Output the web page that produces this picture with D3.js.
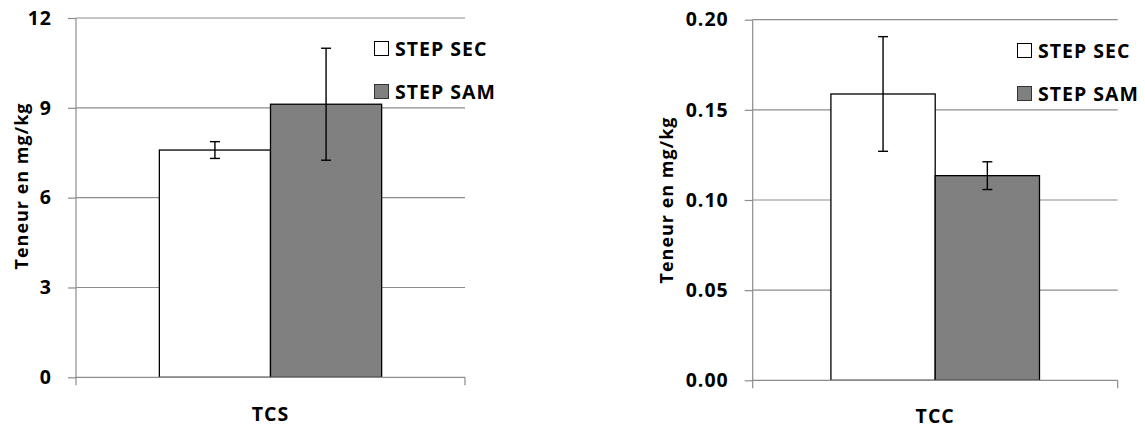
<!DOCTYPE html>
<html>
<head>
<meta charset="utf-8">
<script src="https://cdn.jsdelivr.net/npm/d3@7/dist/d3.min.js"></script>
<style>
  html, body { margin: 0; padding: 0; background: #fff; }
  svg { display: block; }
  text { font-family: "Open Sans", Lato, sans-serif; font-weight: bold; fill: #000; letter-spacing: 1px; }
</style>
</head>
<body>
<svg id="chart" width="1145" height="430"></svg>
<script>
// ---- data ----
const series = ["STEP SEC", "STEP SAM"];
const tcsCategory = ["TCS"];
const tcsValues = [7.59, 9.12];
const tcsErrors = [0.28, 1.87];
const tcsTicks = [0, 3, 6, 9, 12];
const tccCategory = ["TCC"];
const tccValues = [0.1588, 0.1135];
const tccErrors = [0.0318, 0.0077];
const tccTicks = [0, 0.05, 0.10, 0.15, 0.20];
const yLabel = "Teneur en mg/kg";

const fills = ["#ffffff", "#808080"];
const gridColor = "#8c8c8c";
const FONT = "19.5px";
const TITLE_FONT = "18px";

const svg = d3.select("#chart");

function panel(cfg) {
  const g = svg.append("g");
  const x0 = d3.scaleBand().domain(cfg.category).range([cfg.left, cfg.right]);
  const x1 = d3.scaleBand().domain(series).range([0, x0.bandwidth()]).paddingInner(0).paddingOuter(0.75);
  const y = d3.scaleLinear().domain([cfg.ticks[0], cfg.ticks[cfg.ticks.length - 1]]).range([cfg.bottom, cfg.top]);

  // gridlines
  g.append("g").selectAll("line").data(cfg.ticks.slice(1)).join("line")
    .attr("x1", cfg.left).attr("x2", cfg.right)
    .attr("y1", d => y(d)).attr("y2", d => y(d))
    .attr("stroke", gridColor).attr("stroke-width", 1.2);

  // y axis
  const yAxis = d3.axisLeft(y).tickValues(cfg.ticks).tickSize(8).tickPadding(16)
    .tickFormat(cfg.fmt);
  const ya = g.append("g").attr("transform", `translate(${cfg.left},0)`).call(yAxis);
  ya.select(".domain").attr("stroke", gridColor).attr("stroke-width", 1.2)
    .attr("d", `M0,${cfg.top}V${cfg.bottom + 8}`);
  ya.selectAll(".tick line").attr("stroke", gridColor).attr("stroke-width", 1.2);
  ya.selectAll(".tick text").style("font-size", FONT).style("font-family", "'Open Sans', sans-serif")
    .style("font-weight", "bold").attr("fill", "#000");

  // bars
  const bg = g.append("g").attr("transform", `translate(${x0(cfg.category[0])},0)`);
  bg.selectAll("rect").data(cfg.values).join("rect")
    .attr("x", (d, i) => x1(series[i]))
    .attr("width", x1.bandwidth())
    .attr("y", d => y(d))
    .attr("height", d => y(0) - y(d))
    .attr("fill", (d, i) => fills[i])
    .attr("stroke", "#000").attr("stroke-width", 1.3);

  // x axis
  const xa = g.append("g").attr("transform", `translate(0,${cfg.bottom})`);
  xa.append("line").attr("x1", cfg.left).attr("x2", cfg.right).attr("y1", 0).attr("y2", 0)
    .attr("stroke", gridColor).attr("stroke-width", 1.3);
  xa.append("line").attr("x1", cfg.right).attr("x2", cfg.right).attr("y1", 0).attr("y2", 8)
    .attr("stroke", gridColor).attr("stroke-width", 1.2);
  xa.append("text").attr("x", x0(cfg.category[0]) + x0.bandwidth() / 2).attr("y", cfg.catY - cfg.bottom)
    .attr("text-anchor", "middle").style("font-size", FONT).text(cfg.category[0]);

  // error bars
  const eg = bg.append("g");
  cfg.values.forEach((v, i) => {
    const cx = x1(series[i]) + x1.bandwidth() / 2;
    const e = cfg.errors[i];
    const hi = y(v + e), lo = y(v - e);
    eg.append("line").attr("x1", cx).attr("x2", cx).attr("y1", hi).attr("y2", lo)
      .attr("stroke", "#000").attr("stroke-width", 1.4);
    [hi, lo].forEach(yy => eg.append("line").attr("x1", cx - 5).attr("x2", cx + 5)
      .attr("y1", yy).attr("y2", yy).attr("stroke", "#000").attr("stroke-width", 1.4));
  });

  // y label
  g.append("text").attr("transform", `translate(${cfg.labelX},${cfg.labelY}) rotate(-90)`)
    .attr("text-anchor", "middle").style("font-size", TITLE_FONT).text(yLabel);

  // legend
  const lg = g.append("g").attr("transform", `translate(${cfg.legX},${cfg.legY})`);
  series.forEach((s, i) => {
    const row = lg.append("g").attr("transform", `translate(0,${i * 43})`);
    row.append("rect").attr("x", 0.5).attr("y", 0.5).attr("width", 14).attr("height", 14)
      .attr("fill", fills[i]).attr("stroke", i === 0 ? "#000" : "#333").attr("stroke-width", 1);
    row.append("text").attr("x", 21).attr("y", 14.5).style("font-size", FONT).text(s);
  });
}

panel({
  category: tcsCategory, values: tcsValues, errors: tcsErrors, ticks: tcsTicks,
  fmt: d3.format("d"),
  left: 76, right: 465, top: 18, bottom: 377.3,
  catY: 421, labelX: 28, labelY: 186, legX: 374, legY: 41
});

panel({
  category: tccCategory, values: tccValues, errors: tccErrors, ticks: tccTicks,
  fmt: d3.format(".2f"),
  left: 752.7, right: 1117.7, top: 19.7, bottom: 380.3,
  catY: 423.5, labelX: 673, labelY: 200, legX: 1017, legY: 43
});
</script>
</body>
</html>
